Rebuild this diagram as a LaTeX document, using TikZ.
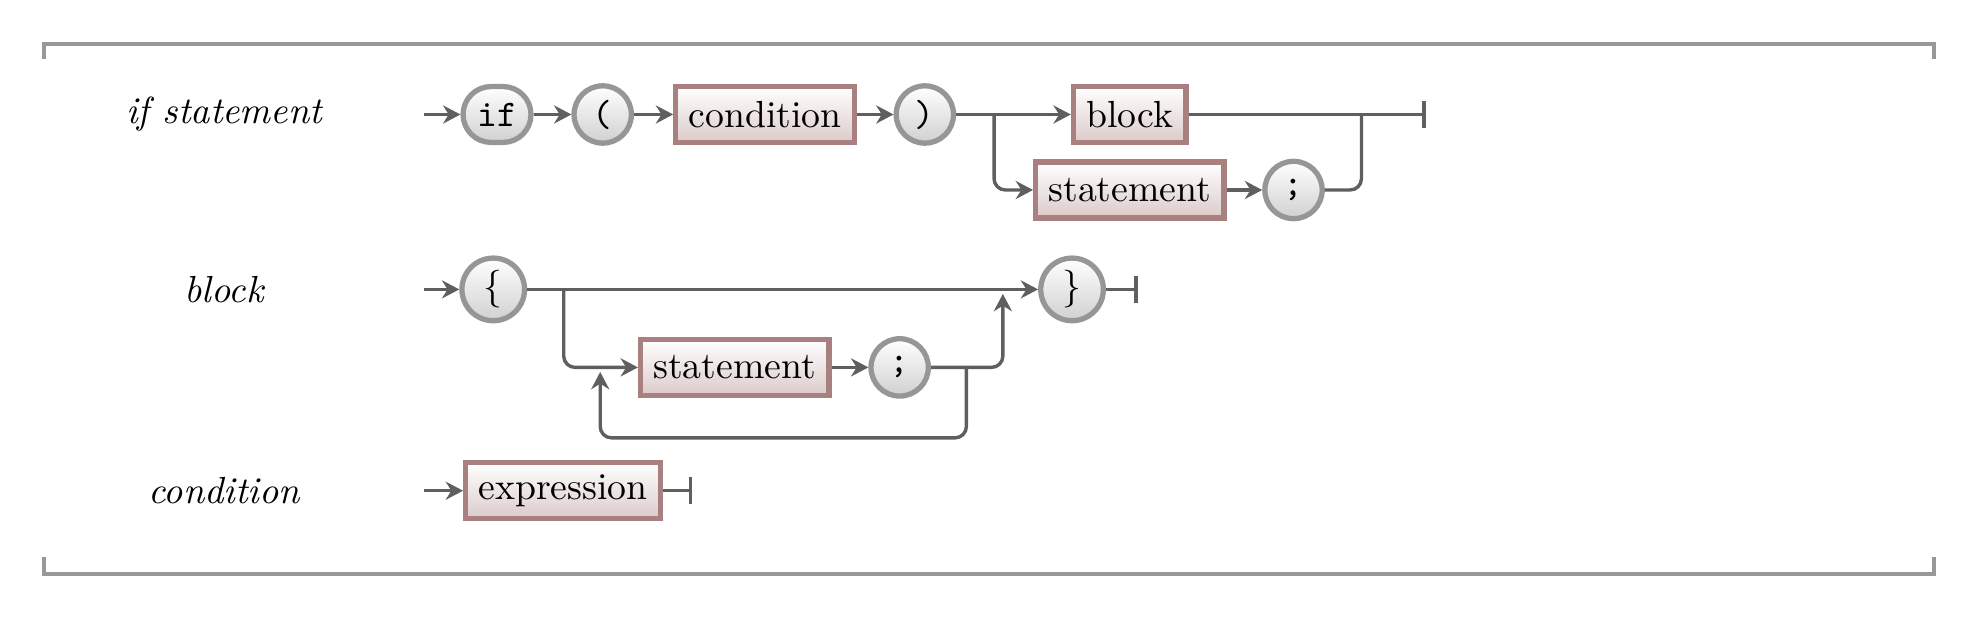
\documentclass[tikz,border=0pt]{standalone}
\usetikzlibrary{arrows.meta}
\definecolor{boxedge}{RGB}{168,128,128}
\definecolor{boxbot}{RGB}{220,202,202}
\definecolor{circedge}{RGB}{150,150,150}
\definecolor{circbot}{RGB}{208,208,208}
\definecolor{linecol}{RGB}{95,95,95}
\definecolor{framecol}{RGB}{152,152,152}
\tikzset{
  rulename/.style={font=\itshape},
  nterm/.style={draw=boxedge,line width=1.4pt,top color=white,bottom color=boxbot,rectangle,inner xsep=3.4pt,inner ysep=0pt,minimum height=14.8pt},
  term/.style={draw=circedge,line width=1.4pt,top color=white,bottom color=circbot,circle,inner sep=0pt,minimum size=15.2pt,font=\ttfamily},
  kw/.style={draw=circedge,line width=1.4pt,top color=white,bottom color=circbot,rectangle,rounded corners=7.4pt,inner sep=0pt,minimum width=18pt,minimum height=14.8pt,font=\ttfamily},
  conn/.style={draw=linecol,line width=0.9pt,rounded corners=3pt,-{Stealth[length=4.6pt,width=4.8pt,inset=1.5pt]}},
  stop/.style={draw=linecol,line width=0.9pt,rounded corners=3pt,-{Bar[width=7.3pt]}},
  plain/.style={draw=linecol,line width=0.9pt,rounded corners=3pt},
  frame/.style={draw=framecol,line width=1.2pt},
}
\begin{document}
\begin{tikzpicture}[x=0.3335pt,y=0.3335pt]
  \useasboundingbox (0,0) rectangle (1568,-491);
  % frame
  \draw[frame] (35,-47) -- (35,-35) -- (1537,-35) -- (1537,-47);
  \draw[frame] (35,-443) -- (35,-456) -- (1537,-456) -- (1537,-443);
  % rule names
  \node[rulename] (ifname) at (178,-91) {if statement};
  \node[rulename] (blockname) at (178,-230) {block};
  \node[rulename] (condname) at (178,-390) {condition};
  % if statement
  \node[kw] (if) at (395,-91) {if};
  \node[term] (lp) at (479,-91) {(};
  \node[nterm,anchor=west] (cond) at (535,-91) {condition};
  \node[term] (rp) at (735,-91) {)};
  \node[nterm,anchor=west] (blk) at (851,-91) {block};
  \node[nterm,anchor=west] (stmta) at (821,-151) {statement};
  \node[term] (semia) at (1028,-151) {;};
  \coordinate (sa) at (337,-91);
  \coordinate (ja) at (790,-91);
  \coordinate (jb) at (1082,-91);
  \coordinate (ea) at (1133,-91);
  \draw[conn] (sa) -- (if);
  \draw[conn] (if) -- (lp);
  \draw[conn] (lp) -- (cond);
  \draw[conn] (cond) -- (rp);
  \draw[conn] (rp) -- (blk);
  \draw[conn] (ja) |- (stmta);
  \draw[conn] (stmta) -- (semia);
  \draw[stop] (blk) -- (ea);
  \draw[plain] (semia) -| (jb);
  % block
  \node[term,font=\normalfont,minimum size=16.6pt] (lb) at (392,-230) {\{};
  \node[term,font=\normalfont,minimum size=16.6pt] (rb) at (852,-230) {\}};
  \node[nterm,anchor=west] (stmtb) at (507,-292) {statement};
  \node[term] (semib) at (715,-292) {;};
  \coordinate (sb) at (337,-230);
  \coordinate (jc) at (448,-230);
  \coordinate (jd) at (797,-230);
  \coordinate (je) at (768,-292);
  \coordinate (jf) at (477,-292);
  \coordinate (lo) at (477,-348);
  \coordinate (eb) at (904,-230);
  \draw[conn] (sb) -- (lb);
  \draw[conn] (lb) -- (rb);
  \draw[conn] (jc) |- (stmtb);
  \draw[conn] (stmtb) -- (semib);
  \draw[conn,shorten >=1.2pt] (semib) -| (jd);
  \draw[conn,shorten >=1.2pt] (je) |- (lo) -- (jf);
  \draw[stop] (rb) -- (eb);
  % condition
  \node[nterm,anchor=west] (expr) at (368,-390) {expression};
  \coordinate (sc) at (337,-390);
  \coordinate (ec) at (550,-390);
  \draw[conn] (sc) -- (expr);
  \draw[stop] (expr) -- (ec);
\end{tikzpicture}
\end{document}
